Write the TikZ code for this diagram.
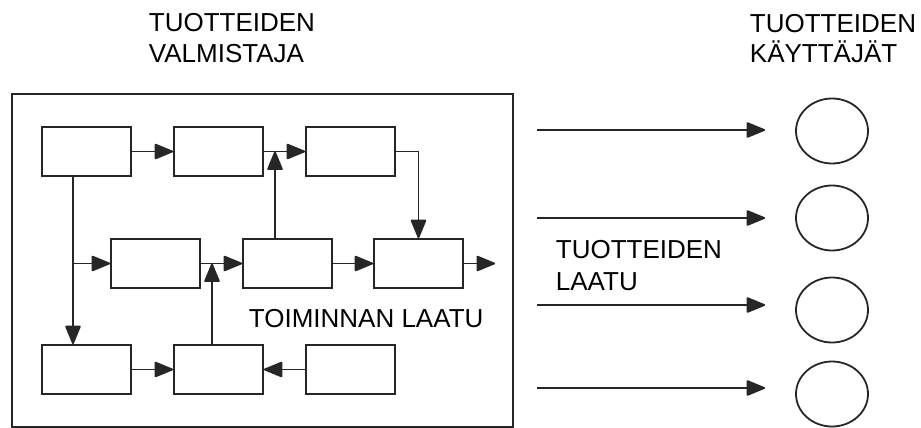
\documentclass[tikz,border=0pt]{standalone}
\usepackage{fontspec}
\setmainfont{Liberation Sans}
\usetikzlibrary{arrows.meta,shapes.geometric}
\begin{document}
\begin{tikzpicture}[x=1pt,y=-1pt,
  line width=1.8pt, draw=black!85,
  stage/.style={draw, rectangle, minimum width=89pt, minimum height=49pt, inner sep=0pt},
  user/.style={draw, ellipse, minimum width=72pt, minimum height=65pt, inner sep=0pt},
  arr/.style={-{Triangle[length=20pt,width=16pt,round]}},
  label/.style={anchor=base west, inner sep=0pt, font=\fontsize{26}{31}\selectfont, text=black}]
\useasboundingbox (0,0) rectangle (921,428);

% producer frame
\node[draw, rectangle, minimum width=501pt, minimum height=333pt, inner sep=0pt] (frame) at (262.5,260.5) {};

% process stages
\node[stage] (A) at (86.5,151.5) {};
\node[stage] (B) at (218.5,151.5) {};
\node[stage] (C) at (350.5,151.5) {};
\node[stage] (D) at (155.5,263.5) {};
\node[stage] (E) at (287.5,263.5) {};
\node[stage] (F) at (418.5,263.5) {};
\node[stage] (G) at (86.5,369.5) {};
\node[stage] (H) at (218.5,369.5) {};
\node[stage] (I) at (350.5,369.5) {};

% junction points and free ends
\coordinate (jtop) at (275,151.5);
\coordinate (jmid) at (212,263.5);
\coordinate (trunk) at (73,176);
\coordinate (out) at (495,263.5);

% flows inside the producer
\draw[arr] (A) -- (B);
\draw[arr] (B) -- (C);
\draw[arr] (E.north -| jtop) -- (jtop);
\draw[arr] (C.east) -| (F.north);
\draw[arr] (trunk) -- (trunk |- G.north);
\draw[arr] (trunk |- D.west) -- (D.west);
\draw[arr] (D) -- (E);
\draw[arr] (H.north -| jmid) -- (jmid);
\draw[arr] (E) -- (F);
\draw[arr] (F.east) -- (out);
\draw[arr] (G) -- (H);
\draw[arr] (I) -- (H);

% product users
\node[user] (u1) at (832,131) {};
\node[user] (u2) at (832,218) {};
\node[user] (u3) at (832,310) {};
\node[user] (u4) at (832,394) {};

\coordinate (s1) at (537,130);
\coordinate (s2) at (537,218);
\coordinate (s3) at (537,305);
\coordinate (s4) at (537,388);
\draw[arr, shorten >=30pt] (s1) -- (s1 -| u1.west);
\draw[arr, shorten >=30pt] (s2) -- (s2 -| u2.west);
\draw[arr, shorten >=30pt] (s3) -- (s3 -| u3.west);
\draw[arr, shorten >=30pt] (s4) -- (s4 -| u4.west);

% labels
\node[label] (t1a) at (148,32) {TUOTTEIDEN};
\node[label] (t1b) at (148,63) {VALMISTAJA};
\node[label] (t2a) at (749,33) {TUOTTEIDEN};
\node[label] (t2b) at (749,63) {KÄYTTÄJÄT};
\node[label] (t3a) at (555,258) {TUOTTEIDEN};
\node[label] (t3b) at (555,290) {LAATU};
\node[label] (t4) at (248,327) {TOIMINNAN LAATU};
\end{tikzpicture}
\end{document}
